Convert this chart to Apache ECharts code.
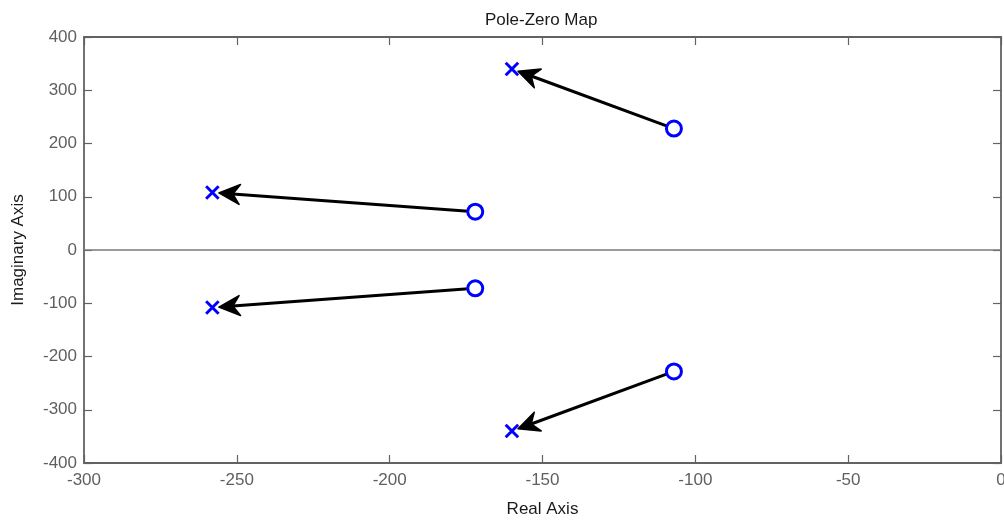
<!DOCTYPE html>
<html>
<head>
<meta charset="utf-8">
<script src="https://cdn.jsdelivr.net/npm/echarts@6/dist/echarts.min.js"></script>
<style>
  html, body { margin: 0; padding: 0; background: #fff; }
  #chart { width: 1004px; height: 520px; }
</style>
</head>
<body>
<div id="chart"></div>
<script>
// Zeros (o) and poles (x) of the system, real and imaginary parts
const zeroRe = [-107, -172, -172, -107];
const zeroIm = [228, 72, -72, -228];
const poleRe = [-160, -258, -258, -160];
const poleIm = [340, 108, -108, -340];

// Tick settings
const xTicks = { min: -300, max: 0, interval: 50 };
const yTicks = { min: -400, max: 400, interval: 100 };

const FONT = 'Liberation Sans, Arial, sans-serif';
const AXIS_GREY = '#626262';
const LABEL_GREY = '#5f5f5f';

const zeroPts = zeroRe.map((r, i) => [r, zeroIm[i]]);
const polePts = poleRe.map((r, i) => [r, poleIm[i]]);
// each arrow runs from a zero to the matching pole
const arrows = zeroRe.map((r, i) => [r, zeroIm[i], poleRe[i], poleIm[i]]);

function axisCommon(extra) {
  return Object.assign({
    type: 'value',
    splitLine: { show: false },
    axisLine: { show: true, onZero: false, lineStyle: { color: AXIS_GREY, width: 1.8 } },
    axisTick: { show: true, inside: true, length: 8, lineStyle: { color: AXIS_GREY, width: 1.2 } },
  }, extra);
}

const chart = echarts.init(document.getElementById('chart'), null, { renderer: 'canvas' });

chart.setOption({
  animation: false,
  backgroundColor: '#ffffff',
  title: {
    text: 'Pole-Zero Map',
    left: 480,
    top: 7,
    textStyle: { fontFamily: FONT, fontSize: 17, fontWeight: 'normal', color: '#1a1a1a' }
  },
  grid: { left: 84, right: 3, top: 37, bottom: 57, containLabel: false, outerBoundsMode: 'none' },
  xAxis: [
    axisCommon(Object.assign({
      position: 'bottom',
      name: 'Real Axis',
      nameLocation: 'middle',
      nameGap: 38,
      nameTextStyle: { fontFamily: FONT, fontSize: 17, color: '#1a1a1a' },
      axisLabel: { fontFamily: FONT, fontSize: 17, color: LABEL_GREY, margin: 9 }
    }, xTicks)),
    axisCommon(Object.assign({
      position: 'top',
      axisLabel: { show: false }
    }, xTicks))
  ],
  yAxis: [
    axisCommon(Object.assign({
      position: 'left',
      name: 'Imaginary Axis',
      nameLocation: 'middle',
      nameGap: 57,
      nameTextStyle: { fontFamily: FONT, fontSize: 17, color: '#1a1a1a' },
      axisLabel: { fontFamily: FONT, fontSize: 17, color: LABEL_GREY, margin: 7 }
    }, yTicks)),
    axisCommon(Object.assign({
      position: 'right',
      axisLabel: { show: false }
    }, yTicks))
  ],
  series: [
    {
      // zero-to-pole arrows
      type: 'custom',
      coordinateSystem: 'cartesian2d',
      xAxisIndex: 0,
      yAxisIndex: 0,
      silent: true,
      z: 2,
      encode: { x: [0, 2], y: [1, 3] },
      data: arrows,
      renderItem: function (params, api) {
        const a = api.coord([api.value(0), api.value(1)]);
        const b = api.coord([api.value(2), api.value(3)]);
        let dx = a[0] - b[0], dy = a[1] - b[1];
        const len = Math.sqrt(dx * dx + dy * dy);
        dx /= len; dy /= len;
        const nx = -dy, ny = dx;
        const tip = [b[0] + dx * 6.5, b[1] + dy * 6.5];
        const back = 21, half = 10, notch = 14;
        const p1 = [tip[0] + dx * back + nx * half, tip[1] + dy * back + ny * half];
        const p2 = [tip[0] + dx * notch, tip[1] + dy * notch];
        const p3 = [tip[0] + dx * back - nx * half, tip[1] + dy * back - ny * half];
        return {
          type: 'group',
          children: [
            {
              type: 'line',
              shape: { x1: a[0], y1: a[1], x2: p2[0], y2: p2[1] },
              style: { stroke: '#000', lineWidth: 3 }
            },
            {
              type: 'polygon',
              shape: { points: [tip, p1, p2, p3] },
              style: { fill: '#000', stroke: '#000', lineWidth: 1.5, lineJoin: 'round' }
            }
          ]
        };
      }
    },
    {
      name: 'Zeros',
      type: 'scatter',
      xAxisIndex: 0,
      yAxisIndex: 0,
      z: 3,
      symbol: 'circle',
      symbolSize: 15,
      data: zeroPts,
      itemStyle: { color: '#ffffff', opacity: 1, borderColor: '#0000ff', borderWidth: 3 },
      markLine: {
        silent: true,
        symbol: ['none', 'none'],
        label: { show: false },
        lineStyle: { color: '#7a7a7a', width: 1.6, type: 'solid' },
        data: [{ yAxis: 0 }]
      }
    },
    {
      name: 'Poles',
      type: 'scatter',
      xAxisIndex: 0,
      yAxisIndex: 0,
      z: 3,
      symbol: 'path://M0,0L10,10M10,0L0,10',
      symbolSize: 12.5,
      data: polePts,
      itemStyle: { color: 'none', opacity: 1, borderColor: '#0000ff', borderWidth: 3 }
    }
  ]
});
</script>
</body>
</html>
